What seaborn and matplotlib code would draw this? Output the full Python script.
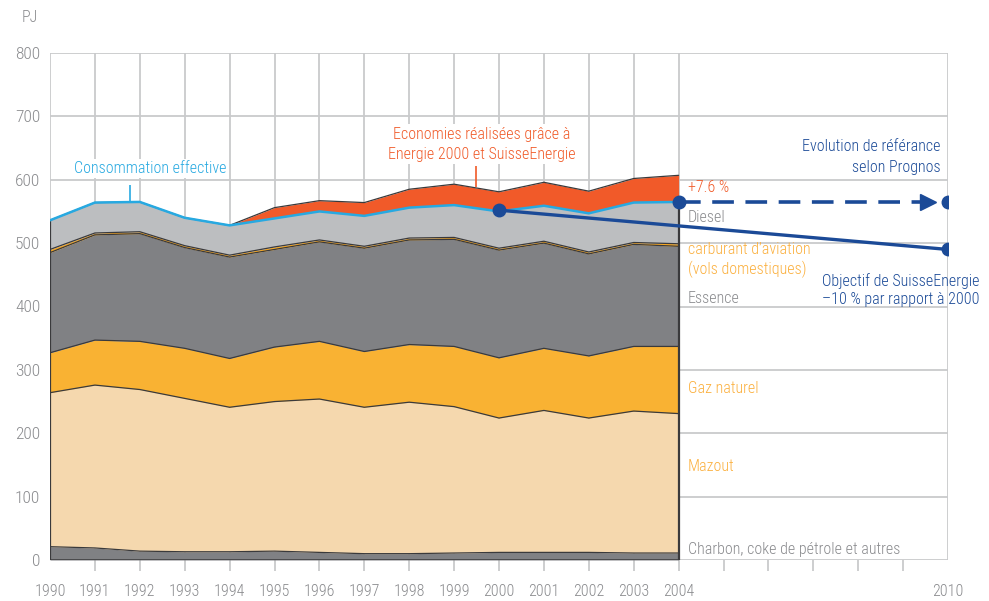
import numpy as np
import matplotlib
matplotlib.use('Agg')
import matplotlib.pyplot as plt
import seaborn as sns
from matplotlib import font_manager

# data (PJ)
years = list(range(1990, 2005))
charbon = [21, 19, 14, 13, 13, 14, 12, 10, 10, 11, 12, 12, 12, 11, 11]
mazout = [243, 257, 255, 242, 228, 236, 242, 231, 239, 231, 212, 224, 212, 224, 220]
gaz = [63, 71, 76, 79, 77, 86, 91, 88, 91, 95, 95, 98, 98, 102, 106]
essence = [158, 166, 170, 159, 160, 154, 157, 163, 165, 169, 170, 166, 161, 161, 158]
aviation = [5, 3, 3, 3, 3, 4, 3, 3, 3, 3, 3, 3, 3, 3, 4]
diesel = [46, 48, 47, 44, 47, 45, 45, 48, 48, 51, 58, 56, 61, 63, 66]
economies = [0, 0, 0, 0, 0, 17, 17, 21, 29, 33, 31, 37, 35, 38, 42]

# projections to 2010
ref_years = [2004, 2010]
ref_values = [565, 565]
goal_years = [2000, 2010]
goal_values = [552, 490]

sns.set_theme(style='white')
names = {f.name for f in font_manager.fontManager.ttflist}
font = 'Roboto'
for cand in ['Roboto Condensed', 'Liberation Sans Narrow']:
    if cand in names:
        font = cand
        break
plt.rcParams['font.family'] = [font, 'DejaVu Sans']
plt.rcParams['font.weight'] = 'light'

GRID = '#c9cacc'
DARK = '#3a3a3c'
GREY_TXT = '#8a8b8e'
ORANGE_TXT = '#fbb03f'
RED = '#f05a28'
NAVY = '#1b4a97'
CYAN = '#27a9e1'

fig = plt.figure(figsize=(9.89, 6.01), dpi=100)
ax = fig.add_axes([50 / 989, 41 / 601, 898 / 989, 507 / 601])

# grid
ax.hlines(range(100, 801, 100), 1990, 2010, color=GRID, lw=1.3, zorder=0)
ax.vlines(list(range(1990, 2005)) + [2010], 0, 800, color=GRID, lw=1.3, zorder=0)
ax.hlines(0, 2004, 2010, color=GRID, lw=1.3, zorder=0)

layers = [charbon, mazout, gaz, essence, aviation, diesel, economies]
colors = ['#808184', '#f5d8ae', '#f9b233', '#808184', '#f7a823', '#bcbec0', '#f15a29']
x = np.array(years)
base = np.zeros(len(years))
tops = []
for vals, col in zip(layers, colors):
    top = base + np.array(vals)
    ax.fill_between(x, base, top, color=col, lw=0, zorder=2)
    tops.append(top)
    base = top

for i, top in enumerate(tops):
    if i == 5:
        continue
    sns.lineplot(x=x, y=top, ax=ax, color=DARK, lw=0.9, zorder=3)
ax.hlines(0, years[0], years[-1], color=DARK, lw=1.8, zorder=3)
ax.vlines([years[0], years[-1]], 0, tops[5][[0, -1]], color=DARK, lw=1.6, zorder=3)

# consommation effective
sns.lineplot(x=x, y=tops[5], ax=ax, color=CYAN, lw=1.8, zorder=4)

# projections
sns.lineplot(x=goal_years, y=goal_values, ax=ax, color=NAVY, lw=2.4, zorder=5)
l = sns.lineplot(x=[ref_years[0], ref_years[1] - 0.6], y=ref_values, ax=ax,
                 color=NAVY, lw=2.6, zorder=5).lines[-1]
l.set_dashes((6, 3.2))
ax.plot(ref_years[1] - 0.45, ref_values[1], marker='>', ms=12, color=NAVY, zorder=5)
dot_x = goal_years + ref_years
dot_y = goal_values + ref_values
ax.plot(dot_x, dot_y, 'o', color=NAVY, ms=9, zorder=6, ls='none')

# annotations
fs = 11.5
bb = dict(facecolor='white', edgecolor='none', pad=1.5)
ax.text(1992.24, 618, 'Consommation effective', color=CYAN, fontsize=fs,
        ha='center', va='center', bbox=bb, zorder=6)
ax.vlines(1991.78, 566, 591, color=CYAN, lw=1.2, zorder=4)
ax.text(1999.62, 656, 'Economies réalisées grâce à\nEnergie 2000 et SuisseEnergie',
        color=RED, fontsize=fs, ha='center', va='center', linespacing=1.45,
        bbox=bb, zorder=6)
ax.vlines(1999.49, 588, 622, color=RED, lw=1.2, zorder=4)
ax.text(2009.84, 636, 'Evolution de référance\nselon Prognos', color=NAVY,
        fontsize=fs, ha='right', va='center', linespacing=1.45, zorder=6)
ax.text(2008.95, 426, 'Objectif de SuisseEnergie\n–10 % par rapport à 2000', color=NAVY,
        fontsize=fs, ha='center', va='center', linespacing=1.3, clip_on=False, zorder=6)

lx = years[-1] + 0.2
ax.text(lx, 587, '+7.6 %', color=RED, fontsize=fs, va='center')
ax.text(lx, 540, 'Diesel', color=GREY_TXT, fontsize=fs, va='center')
ax.text(lx, 473, 'carburant d’aviation\n(vols domestiques)', color=ORANGE_TXT,
        fontsize=fs, va='center', linespacing=1.3)
ax.text(lx, 413, 'Essence', color=GREY_TXT, fontsize=fs, va='center')
ax.text(lx, 271, 'Gaz naturel', color=ORANGE_TXT, fontsize=fs, va='center')
ax.text(lx, 148, 'Mazout', color=ORANGE_TXT, fontsize=fs, va='center')
ax.text(lx, 17, 'Charbon, coke de pétrole et autres', color=GREY_TXT,
        fontsize=fs, va='center')
fig.text(30 / 989, 1 - 18 / 601, 'PJ', color=GREY_TXT, fontsize=fs, ha='center', va='center')

# axes: ticks at 1991-2009, labels 1990-2004 and 2010
ax.set_xlim(1990, 2010)
ax.set_ylim(0, 800)
tick_years = list(range(1991, 2010))
ax.set_xticks(tick_years, labels=[str(y) if y in years else '' for y in tick_years])
ax.set_xticks([years[0], 2010], labels=[str(years[0]), '2010'], minor=True)
ax.set_yticks(range(0, 801, 100))
ax.tick_params(axis='x', which='major', bottom=True, length=8, width=1.3, color=GRID,
               pad=9, labelsize=fs, labelcolor=GREY_TXT)
ax.tick_params(axis='x', which='minor', bottom=True, length=0, pad=17, labelsize=fs,
               labelcolor=GREY_TXT)
ax.tick_params(axis='y', length=0, pad=7, labelsize=12.5, labelcolor=GREY_TXT)
for s in ax.spines.values():
    s.set_visible(False)
ax.set_xlabel('')
ax.set_ylabel('')

fig.savefig('out.png', dpi=100)
